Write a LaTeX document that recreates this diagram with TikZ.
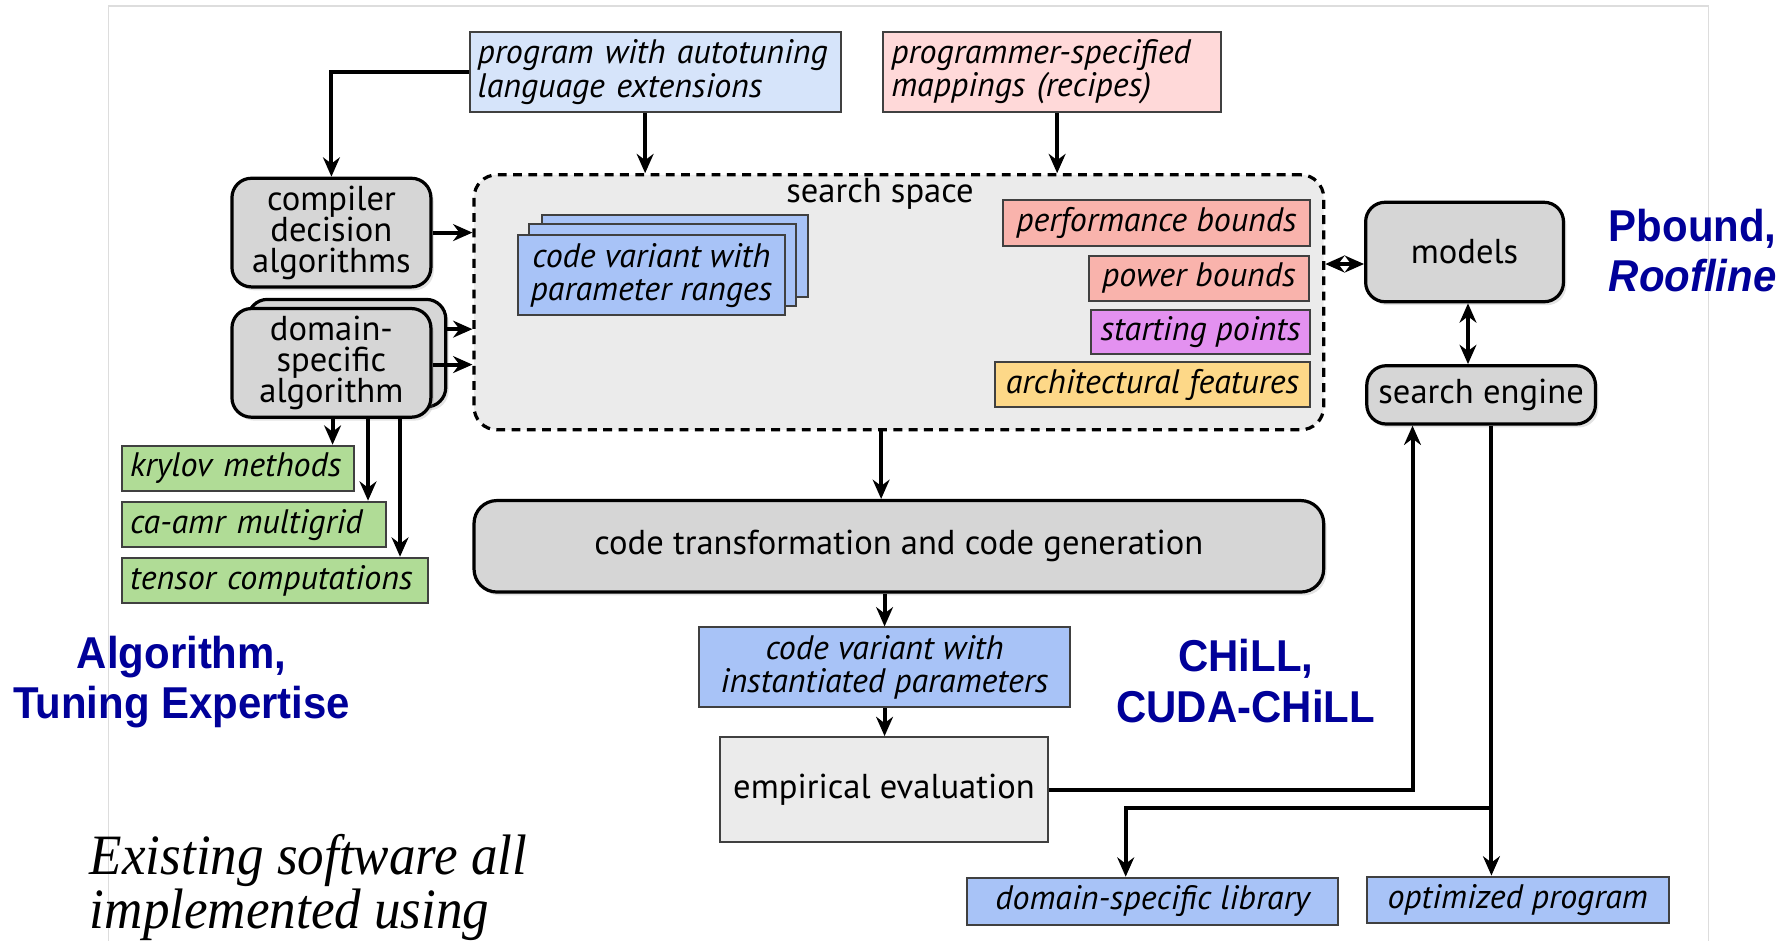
\documentclass[tikz,border=0pt]{standalone}
\usepackage{fontspec}
\setmainfont{PT Sans}
\newfontfamily\headfont[FakeStretch=0.94]{Liberation Sans}
\newfontfamily\notefont[FakeStretch=0.93]{Liberation Serif}
\usetikzlibrary{arrows.meta,shadows}
\definecolor{lightblue}{HTML}{D6E4FA}
\definecolor{midblue}{HTML}{A8C3F7}
\definecolor{lightpink}{HTML}{FFD9D9}
\definecolor{salmon}{HTML}{F9B3AC}
\definecolor{violet}{HTML}{E391F0}
\definecolor{amber}{HTML}{FDD888}
\definecolor{leaf}{HTML}{B0DC96}
\definecolor{boxgray}{HTML}{D6D6D6}
\definecolor{spacegray}{HTML}{EBEBEB}
\definecolor{navy}{HTML}{000099}
\definecolor{frame}{HTML}{DDDDDD}
\newcommand{\boxfont}{\fontsize{8.45}{8.3}\selectfont\lineskiplimit=-10pt}
\newcommand{\grayfont}{\fontsize{8.6}{7.7}\selectfont\lineskiplimit=-10pt}
\begin{document}
\begin{tikzpicture}[x=0.01cm,y=-0.01cm,
  box/.style={draw=black!75, line width=0.5pt, inner sep=0pt, align=center,
    font=\boxfont\itshape},
  leftbox/.style={box, align=left, inner xsep=0.07cm,
    execute at begin node={\hyphenpenalty=10000\exhyphenpenalty=10000}},
  gbox/.style={draw=black, line width=0.8pt, rounded corners=0.17cm, fill=boxgray,
    inner sep=0pt, align=center, font=\grayfont,
    drop shadow={opacity=0.22, shadow xshift=0.025cm, shadow yshift=-0.03cm}},
  arr/.style={line width=1pt, -{Stealth[length=4.8pt,width=4.2pt]}},
  dblarr/.style={line width=1pt, {Stealth[length=4.8pt,width=4.2pt]}-{Stealth[length=4.8pt,width=4.2pt]}},
  headlabel/.style={font=\headfont\bfseries\fontsize{11.1}{12.5}\selectfont, text=navy, inner sep=0pt}
]
\useasboundingbox (0,0) rectangle (1568,823);
\clip (0,0) rectangle (1568,823);

% page frame
\draw[frame, line width=0.4pt] (95,830) -- (95,5) -- (1495,5) -- (1495,830);

% inputs at the top
\node[leftbox, fill=lightblue, minimum width=3.25cm, minimum height=0.70cm, text width=3.11cm]
  (prog) at (573.5,63) {program with autotuning\\language extensions};
\node[leftbox, fill=lightpink, minimum width=2.95cm, minimum height=0.70cm, text width=2.81cm]
  (recipes) at (920.5,63) {programmer-specified\\mappings (recipes)};

% search space and its contents
\node[draw=black, line width=0.8pt, dashed, dash pattern=on 2.2pt off 1.6pt, rounded corners=0.2cm,
  fill=spacegray, minimum width=7.43cm, minimum height=2.23cm] (search) at (786.5,264.5) {};
\node[font=\grayfont, inner sep=0pt] (sslabel) at (770,170) {search space};

\node[box, fill=midblue, minimum width=2.33cm, minimum height=0.72cm] (card3) at (590.5,224) {};
\node[box, fill=midblue, minimum width=2.33cm, minimum height=0.72cm] (card2) at (579.5,232) {};
\node[box, fill=midblue, minimum width=2.34cm, minimum height=0.70cm] (card1) at (570,241)
  {code variant with\\parameter ranges};

\node[box, fill=salmon, minimum width=2.68cm, minimum height=0.40cm] (perf) at (1012,195) {performance bounds};
\node[box, fill=salmon, minimum width=1.92cm, minimum height=0.39cm] (power) at (1049,243.5) {power bounds};
\node[box, fill=violet, minimum width=1.91cm, minimum height=0.39cm] (start) at (1050.5,290.5) {starting points};
\node[box, fill=amber, minimum width=2.75cm, minimum height=0.39cm] (archf) at (1008.5,336.5) {architectural features};

% algorithm boxes on the left
\node[gbox, minimum width=1.74cm, minimum height=0.95cm] (compiler) at (290,203.5)
  {compiler\\decision\\algorithms};
\node[gbox, minimum width=1.73cm, minimum height=0.94cm] (domback) at (303.5,309) {};
\node[gbox, minimum width=1.74cm, minimum height=0.95cm] (domain) at (290,317.5)
  {domain-\\specific\\algorithm};

\node[leftbox, fill=leaf, minimum width=2.01cm, minimum height=0.40cm, text width=1.89cm] (krylov) at (208.5,410) {krylov methods};
\node[leftbox, fill=leaf, minimum width=2.29cm, minimum height=0.40cm, text width=2.17cm] (caamr) at (222.5,459) {ca-amr multigrid};
\node[leftbox, fill=leaf, minimum width=2.65cm, minimum height=0.40cm, text width=2.53cm] (tensor) at (240.5,508) {tensor computations};

% models and search engine
\node[gbox, minimum width=1.73cm, minimum height=0.87cm] (models) at (1281.5,220.5) {models};
\node[gbox, minimum width=2.00cm, minimum height=0.51cm] (engine) at (1296,345.5) {search engine};

% code generation pipeline
\node[gbox, rounded corners=0.2cm, minimum width=7.43cm, minimum height=0.80cm] (transform) at (786.5,478)
  {code transformation and code generation};
\node[box, fill=midblue, minimum width=3.24cm, minimum height=0.70cm] (inst) at (774,584)
  {code variant with\\instantiated parameters};
\node[draw=black!75, line width=0.5pt, fill=spacegray, inner sep=0pt, font=\grayfont,
  minimum width=2.87cm, minimum height=0.92cm] (emp) at (773.5,691) {empirical evaluation};

% outputs
\node[box, fill=midblue, minimum width=3.25cm, minimum height=0.41cm] (lib) at (1008.5,788.5) {domain-specific library};
\node[box, fill=midblue, minimum width=2.64cm, minimum height=0.41cm] (opt) at (1328,787.5) {optimized program};

% labels
\node[headlabel, align=center] (algolabel) at (159,597) {Algorithm,\\Tuning Expertise};
\node[headlabel, align=left, anchor=west] (pboundlabel) at (1407,219) {Pbound,\\\itshape Roofline};
\node[headlabel, align=center] (chilllabel) at (1090,596) {CHiLL,\\CUDA-CHiLL};
\node[font=\notefont\itshape\fontsize{14.2}{13.4}\selectfont, align=left, anchor=base west, inner sep=0pt]
  (note) at (78,812) {Existing software all\\implemented using};

% connectors
\draw[arr] (prog.west) -| (compiler.north);
\draw[arr] ([xshift=-0.09cm]prog.south) -- ([xshift=-0.09cm]prog.south |- search.north);
\draw[arr] ([xshift=0.045cm]recipes.south) -- ([xshift=0.045cm]recipes.south |- search.north);
\draw[arr] (compiler.east) -- (compiler.east -| search.west);
\draw[arr] ([yshift=0.21cm]domback.east) -- ([yshift=0.21cm]domback.east -| search.west);
\draw[arr] ([yshift=-0.015cm]domain.east) -- ([yshift=-0.015cm]domain.east -| search.west);
\draw[arr] ([xshift=0.01cm]domain.south) -- ([xshift=0.01cm]domain.south |- krylov.north);
\draw[arr] ([xshift=0.32cm]domain.south) -- ([xshift=0.32cm]domain.south |- caamr.north);
\draw[arr] ([xshift=0.60cm]domain.south) -- ([xshift=0.60cm]domain.south |- tensor.north);
\draw[dblarr] ([yshift=-0.105cm]models.west) -- ([yshift=-0.105cm]models.west -| search.east);
\draw[dblarr] ([xshift=0.03cm]models.south) -- ([xshift=0.03cm]models.south |- engine.north);
\draw[arr] ([xshift=-0.155cm]search.south) -- ([xshift=-0.155cm]search.south |- transform.north);
\draw[arr] (transform.south -| inst.north) -- (inst.north);
\draw[arr] (inst.south) -- (inst.south |- emp.north);
\draw[arr] (emp.east) -| ([xshift=-0.6cm]engine.south);
\draw[arr] ([xshift=0.09cm]engine.south) -- ([xshift=0.09cm]engine.south |- opt.north);
\coordinate (branch) at (1305,707);
\draw[arr] (branch) -| ([xshift=-0.235cm]lib.north);
\end{tikzpicture}
\end{document}
